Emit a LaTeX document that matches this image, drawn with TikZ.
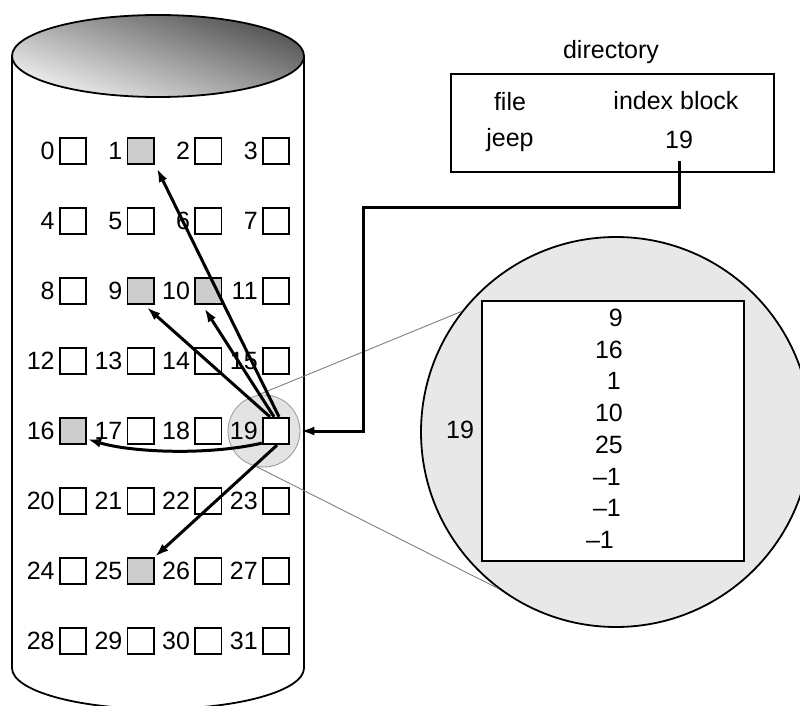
\documentclass[tikz,border=0pt]{standalone}
\usepackage{fontspec}
\setmainfont{Liberation Sans}
\usetikzlibrary{arrows.meta}
\begin{document}
\begin{tikzpicture}[x=1pt,y=-1pt,
  sq/.style={draw, line width=1.8pt, fill=white, minimum size=26.5pt, inner sep=0pt},
  sq1/.style={fill=gray!40}, sq9/.style={fill=gray!40}, sq10/.style={fill=gray!40},
  sq16/.style={fill=gray!40}, sq25/.style={fill=gray!40},
  txt/.style={inner sep=0pt, font=\fontsize{25}{28}\selectfont},
  lab/.style={txt, anchor=east},
  arr/.style={line width=3pt, -{Latex[length=14pt,width=9pt]}},
  thinl/.style={draw=gray, line width=0.9pt}]
\useasboundingbox (0,0) rectangle (800,706);
\clip (0,0) rectangle (800,706);
% cylinder
\draw[line width=1.8pt] (12,56) -- (12,668) arc[start angle=180, end angle=0, x radius=146, y radius=41] -- (304,56);
\shade[top color=black!68, bottom color=black!6, shading angle=-20] (158,56) ellipse [x radius=146, y radius=41];
\draw[line width=1.8pt] (158,56) ellipse [x radius=146, y radius=41];
% zoom circles
\node[circle, draw=gray!75, line width=0.9pt, fill=gray!22, minimum size=72pt, inner sep=0pt] (zc) at (264,431) {};
\node[circle, draw, line width=1.8pt, fill=gray!18, minimum size=390pt, inner sep=0pt] (bigc) at (616,432) {};
\draw[thinl] (zc.100) -- (bigc.142);
\draw[thinl] (zc.258) -- (bigc.233);
\node[draw, line width=2pt, fill=white, minimum width=262pt, minimum height=260pt, inner sep=0pt] (ib) at (613,431) {};
\node[txt] (b19) at (460,430) {19};
\node[lab] (v1) at (623,318) {9};
\node[lab] (v2) at (623,350) {16};
\node[lab] (v3) at (621,381) {1};
\node[lab] (v4) at (623,413) {10};
\node[lab] (v5) at (623,445) {25};
\node[lab] (v6) at (621,477) {--1};
\node[lab] (v7) at (621,508) {--1};
\node[lab] (v8) at (614,540) {--1};
% blocks
\foreach \i in {0,...,31} {
  \pgfmathtruncatemacro\r{int(\i/4)}
  \pgfmathtruncatemacro\c{mod(\i,4)}
  \node[sq, sq\i/.try] (s\i) at ({73+67.67*\c},{151+70*\r}) {};
  \node[lab] (l\i) at ([xshift=-4pt]s\i.west) {\i};
}
% pointers
\draw[arr] ([xshift=3pt]s19.north) -- ([xshift=2pt,yshift=-3pt]s1.south east);
\draw[arr] ([xshift=-6pt]s19.north) -- ([xshift=6pt,yshift=-2pt]s9.south);
\draw[arr] ([xshift=-2pt]s19.north) -- ([xshift=-4pt,yshift=-3pt]s10.south);
\draw[arr] ([yshift=2pt]s19.south west) .. controls (205,456) and (130,452) .. ([yshift=-8pt]s16.east);
\draw[arr] ([xshift=1pt]s19.south) -- (s25.north east);
% directory
\node[txt] (dirl) at (611,52) {directory};
\node[draw, line width=2pt, minimum width=323pt, minimum height=98pt, inner sep=0pt] (dirbox) at (612.5,123) {};
\node[txt] (dfile) at (510,102) {file};
\node[txt] (djeep) at (510,140) {jeep};
\node[txt] (dib) at (676,101) {index block};
\node[txt] (d19) at (679,140) {19};
\coordinate (bend) at (363,207);
\draw[line width=3pt, line join=miter, -{Latex[length=14pt,width=9pt]}] ([yshift=-12pt]d19.south) |- (bend) |- (zc.east);
\end{tikzpicture}
\end{document}
